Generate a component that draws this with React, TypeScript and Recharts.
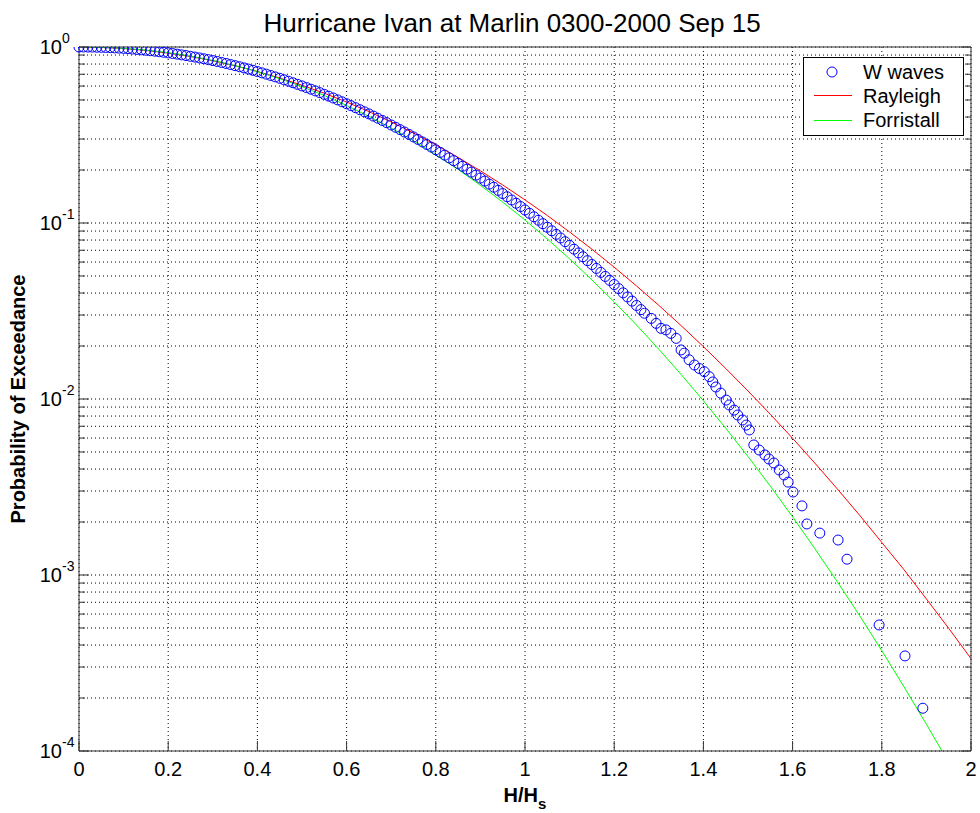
import React from "react";
import { ComposedChart, Line, Scatter, XAxis, YAxis, CartesianGrid } from "recharts";

const FONT = '"Liberation Sans", Arial, Helvetica, sans-serif';
const AXIS_COLOR = "#333";

// x ticks (H/Hs) and log decades
const xTicks = [0, 0.2, 0.4, 0.6, 0.8, 1, 1.2, 1.4, 1.6, 1.8, 2];
const decades = [1e-4, 1e-3, 1e-2, 1e-1, 1];
const minorSteps = [2, 3, 4, 5, 6, 7, 8, 9];

// measured exceedance (W waves)
const waveX = [
  0, 0.01, 0.02, 0.03, 0.04, 0.05, 0.06, 0.07, 0.08, 0.09,
  0.1, 0.11, 0.12, 0.13, 0.14, 0.15, 0.16, 0.17, 0.18, 0.19,
  0.2, 0.21, 0.22, 0.23, 0.24, 0.25, 0.26, 0.27, 0.28, 0.29,
  0.3, 0.31, 0.32, 0.33, 0.34, 0.35, 0.36, 0.37, 0.38, 0.39,
  0.4, 0.41, 0.42, 0.43, 0.44, 0.45, 0.46, 0.47, 0.48, 0.49,
  0.5, 0.51, 0.52, 0.53, 0.54, 0.55, 0.56, 0.57, 0.58, 0.59,
  0.6, 0.61, 0.62, 0.63, 0.64, 0.65, 0.66, 0.67, 0.68, 0.69,
  0.7, 0.71, 0.72, 0.73, 0.74, 0.75, 0.76, 0.77, 0.78, 0.79,
  0.8, 0.81, 0.82, 0.83, 0.84, 0.85, 0.86, 0.87, 0.88, 0.89,
  0.9, 0.91, 0.92, 0.93, 0.94, 0.95, 0.96, 0.97, 0.98, 0.99,
  1.0, 1.01, 1.02, 1.03, 1.04, 1.05, 1.06, 1.07, 1.08, 1.09,
  1.1, 1.11, 1.12, 1.13, 1.14, 1.15, 1.16, 1.17, 1.18, 1.19,
  1.2, 1.21, 1.22, 1.23, 1.24, 1.25, 1.26,
  1.268, 1.283, 1.294, 1.305, 1.316, 1.327, 1.339, 1.35, 1.357, 1.368,
  1.38, 1.391, 1.402, 1.413, 1.421, 1.428, 1.439, 1.451, 1.458, 1.469,
  1.477, 1.488, 1.496, 1.503, 1.513, 1.525, 1.538, 1.547, 1.558, 1.57,
  1.581, 1.59, 1.601, 1.621, 1.632, 1.661, 1.702, 1.722, 1.794, 1.852, 1.892,
];
const waveP = [
  1, 0.9998, 0.9993, 0.9985, 0.9972, 0.9956, 0.9936, 0.9912, 0.9884, 0.9852,
  0.9817, 0.9778, 0.9735, 0.9689, 0.9639, 0.9585, 0.9527, 0.9466, 0.94, 0.9332,
  0.9259, 0.9185, 0.9107, 0.9025, 0.8941, 0.8854, 0.8763, 0.867, 0.8574, 0.8475,
  0.8373, 0.8271, 0.8165, 0.8058, 0.7948, 0.7836, 0.7723, 0.7607, 0.749, 0.7372,
  0.7252, 0.7131, 0.701, 0.6887, 0.6763, 0.6639, 0.6514, 0.6388, 0.6262, 0.6136,
  0.6009, 0.5883, 0.5757, 0.5631, 0.5506, 0.538, 0.5255, 0.5131, 0.5007, 0.4884,
  0.4761, 0.4641, 0.4521, 0.4402, 0.4284, 0.4168, 0.4052, 0.3938, 0.3826, 0.3715,
  0.3605, 0.3498, 0.3392, 0.3287, 0.3185, 0.3084, 0.2985, 0.2888, 0.2792, 0.2699,
  0.2607, 0.2518, 0.243, 0.2345, 0.2261, 0.218, 0.21, 0.2022, 0.1946, 0.1872,
  0.18, 0.1731, 0.1663, 0.1597, 0.1533, 0.147, 0.141, 0.1351, 0.1295, 0.124,
  0.1186, 0.1135, 0.1085, 0.1037, 0.0991, 0.0946, 0.0903, 0.0862, 0.0822, 0.0783,
  0.0746, 0.071, 0.0676, 0.0643, 0.0611, 0.0581, 0.0552, 0.0524, 0.0497, 0.0472,
  0.0447, 0.0424, 0.0401, 0.038, 0.036, 0.034, 0.0322,
  0.0307, 0.0287, 0.0269, 0.0252, 0.0247, 0.0236, 0.0221, 0.019, 0.0182, 0.0167,
  0.0156, 0.0149, 0.0143, 0.0134, 0.0125, 0.0117, 0.0108, 0.00986, 0.00925, 0.00865,
  0.00811, 0.0076, 0.00711, 0.00667, 0.00548, 0.00513, 0.00481, 0.00456, 0.00433, 0.00395,
  0.0037, 0.00337, 0.00296, 0.00247, 0.00195, 0.00173, 0.00158, 0.00123, 0.00052, 0.000347, 0.000175,
];

// theoretical curves
const theoryX = [
  0, 0.05, 0.1, 0.15, 0.2, 0.25, 0.3, 0.35, 0.4, 0.45,
  0.5, 0.55, 0.6, 0.65, 0.7, 0.75, 0.8, 0.85, 0.9, 0.95,
  1.0, 1.05, 1.1, 1.15, 1.2, 1.25, 1.3, 1.35, 1.4, 1.45,
  1.5, 1.55, 1.6, 1.65, 1.7, 1.75, 1.8, 1.85, 1.9, 1.95, 2.0,
];
const rayleighP = [
  1, 0.995, 0.9802, 0.956, 0.9231, 0.8825, 0.8353, 0.7827, 0.7262, 0.667,
  0.6065, 0.5461, 0.4868, 0.4296, 0.3753, 0.3247, 0.278, 0.2358, 0.1979, 0.1645,
  0.1353, 0.1103, 0.0889, 0.071, 0.0561, 0.0439, 0.03405, 0.02612, 0.01984, 0.01492,
  0.01111, 0.00819, 0.00598, 0.00432, 0.00309, 0.00219, 0.00153, 0.00107, 0.000731, 0.000498, 0.000335,
];
const forristallP = [
  1, 0.9961, 0.9832, 0.9607, 0.9288, 0.888, 0.8394, 0.7844, 0.7242, 0.6607,
  0.5954, 0.53, 0.4658, 0.4042, 0.3463, 0.293, 0.2445, 0.2015, 0.1638, 0.1314,
  0.104, 0.0812, 0.06255, 0.04753, 0.03563, 0.02633, 0.01919, 0.01379, 0.00977, 0.00683,
  0.00471, 0.0032, 0.00214, 0.00141, 0.000918, 0.000589, 0.000372, 0.000231, 0.000142, 0.0000859, 0.0000512,
];

const yTicks: number[] = [];
decades.forEach((d, i) => {
  yTicks.push(d);
  if (i < decades.length - 1) minorSteps.forEach((m) => yTicks.push(d * m));
});

const waveData = waveX.map((x, i) => ({ x, y: waveP[i] }));
const rayleighData = theoryX.map((x, i) => ({ x, y: rayleighP[i] }));
const forristallData = theoryX.map((x, i) => ({ x, y: forristallP[i] }));

const isDecade = (v: number) => Math.abs(Math.log10(v) - Math.round(Math.log10(v))) < 1e-6;

const BottomTick = (props: any) => {
  const { x, y, payload } = props;
  return (
    <g>
      <line x1={x} x2={x} y1={y} y2={y - 10} stroke={AXIS_COLOR} />
      <text x={x} y={y + 25} textAnchor="middle" fontSize={20} fontFamily={FONT} fill="#000">
        {String(payload.value)}
      </text>
    </g>
  );
};

const TopTick = (props: any) => {
  const { x, y } = props;
  return <line x1={x} x2={x} y1={y} y2={y + 10} stroke={AXIS_COLOR} />;
};

const LeftTick = (props: any) => {
  const { x, y, payload } = props;
  const major = isDecade(payload.value);
  const len = major ? 10 : 6;
  return (
    <g>
      <line x1={x} x2={x + len} y1={y} y2={y} stroke={AXIS_COLOR} />
      {major && (
        <g fontFamily={FONT} fill="#000">
          <text x={x - 17} y={y + 7} textAnchor="end" fontSize={20}>10</text>
          <text x={x - 17} y={y - 4} textAnchor="start" fontSize={14}>
            {String(Math.round(Math.log10(payload.value)))}
          </text>
        </g>
      )}
    </g>
  );
};

const RightTick = (props: any) => {
  const { x, y, payload } = props;
  const len = isDecade(payload.value) ? 10 : 6;
  return <line x1={x} x2={x - len} y1={y} y2={y} stroke={AXIS_COLOR} />;
};

const Ring = (props: any) => {
  const { cx, cy } = props;
  return <circle cx={cx} cy={cy} r={5} fill="none" stroke="#0000ff" strokeWidth={1} />;
};

export default function App() {
  return (
    <div style={{ position: "absolute", left: 0, top: 0, width: 980, height: 813, background: "#fff" }}>
      <ComposedChart width={980} height={813} margin={{ top: 46, right: 8, bottom: 0, left: 0 }}>
        <CartesianGrid stroke="#000" strokeDasharray="1 3" />
        <XAxis
          dataKey="x"
          type="number"
          domain={[0, 2]}
          ticks={xTicks}
          height={62}
          tickSize={0}
          tickMargin={0}
          tickLine={false}
          axisLine={{ stroke: AXIS_COLOR }}
          tick={BottomTick}
          interval={0}
          label={{
            content: (p: any) => {
              const vb = p.viewBox;
              return (
                <text
                  x={vb.x + vb.width / 2}
                  y={vb.y + 51}
                  textAnchor="middle"
                  fontSize={20}
                  fontWeight="bold"
                  fontFamily={FONT}
                  fill="#000"
                >
                  H/H<tspan dy={7} fontSize={15}>s</tspan>
                </text>
              );
            },
          }}
        />
        <XAxis
          xAxisId="top"
          orientation="top"
          dataKey="x"
          type="number"
          domain={[0, 2]}
          ticks={xTicks}
          height={1}
          tickSize={0}
          tickMargin={0}
          tickLine={false}
          axisLine={{ stroke: AXIS_COLOR }}
          tick={TopTick}
          interval={0}
        />
        <YAxis
          dataKey="y"
          type="number"
          scale="log"
          domain={[1e-4, 1]}
          allowDataOverflow
          ticks={yTicks}
          width={79}
          tickSize={0}
          tickMargin={0}
          tickLine={false}
          axisLine={{ stroke: AXIS_COLOR }}
          tick={LeftTick}
          interval={0}
          label={{
            content: (p: any) => {
              const vb = p.viewBox;
              const cy = vb.y + vb.height / 2;
              return (
                <text
                  x={25}
                  y={cy}
                  transform={`rotate(-90, 25, ${cy})`}
                  textAnchor="middle"
                  fontSize={20}
                  fontWeight="bold"
                  fontFamily={FONT}
                  fill="#000"
                >
                  Probability of Exceedance
                </text>
              );
            },
          }}
        />
        <YAxis
          yAxisId="right"
          orientation="right"
          type="number"
          scale="log"
          domain={[1e-4, 1]}
          allowDataOverflow
          ticks={yTicks}
          width={1}
          tickSize={0}
          tickMargin={0}
          tickLine={false}
          axisLine={{ stroke: AXIS_COLOR }}
          tick={RightTick}
          interval={0}
        />
        <Scatter name="W waves" data={waveData} dataKey="y" shape={Ring} isAnimationActive={false} />
        <Line
          name="Rayleigh"
          data={rayleighData}
          dataKey="y"
          type="linear"
          stroke="#ff0000"
          strokeWidth={1}
          dot={false}
          isAnimationActive={false}
        />
        <Line
          name="Forristall"
          data={forristallData}
          dataKey="y"
          type="linear"
          stroke="#00ff00"
          strokeWidth={1}
          dot={false}
          isAnimationActive={false}
        />
      </ComposedChart>

      <svg
        width={980}
        height={813}
        style={{ position: "absolute", left: 0, top: 0, pointerEvents: "none" }}
        fontFamily={FONT}
      >
        <text x={512} y={32} textAnchor="middle" fontSize={26} fill="#000">
          Hurricane Ivan at Marlin 0300-2000 Sep 15
        </text>
        <g transform="translate(803, 57)">
          <rect x={0.5} y={0.5} width={160} height={78} fill="#fff" stroke="#000" />
          <circle cx={29} cy={15} r={5} fill="none" stroke="#0000ff" />
          <text x={60} y={22} fontSize={20} fill="#000">W waves</text>
          <line x1={11} x2={49} y1={38.5} y2={38.5} stroke="#ff0000" />
          <text x={60} y={46} fontSize={20} fill="#000">Rayleigh</text>
          <line x1={11} x2={49} y1={63.5} y2={63.5} stroke="#00ff00" />
          <text x={60} y={70} fontSize={20} fill="#000">Forristall</text>
        </g>
      </svg>
    </div>
  );
}
